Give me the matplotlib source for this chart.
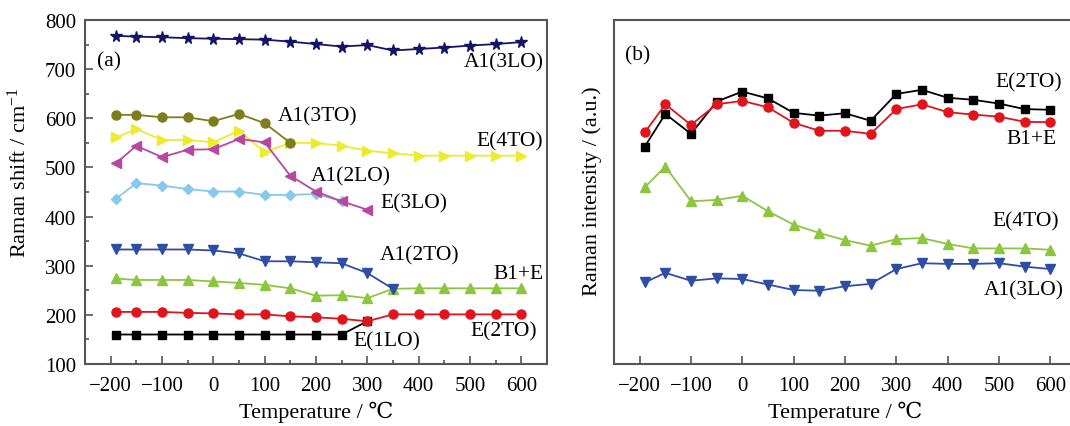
import matplotlib
matplotlib.use("Agg")
import matplotlib.pyplot as plt
from matplotlib.ticker import MultipleLocator, NullLocator

plt.rcParams['font.family'] = ['Liberation Serif', 'DejaVu Serif']
plt.rcParams['mathtext.fontset'] = 'custom'
plt.rcParams['mathtext.rm'] = 'Liberation Serif'
plt.rcParams['mathtext.it'] = 'Liberation Serif:italic'
plt.rcParams['axes.unicode_minus'] = True

# ---------------- data ----------------
T_full = [-190, -150, -100, -50, 0, 50, 100, 150, 200, 250, 300, 350, 400, 450, 500, 550, 600]

# panel (a): Raman shift (cm^-1)
a_A1_3LO = [768, 766, 765, 763, 762, 761, 760, 756, 751, 746, 749, 738, 741, 744, 748, 751, 755]
a_A1_3TO = [607, 607, 602, 602, 594, 609, 590, 550]
a_E_4TO = [561, 578, 556, 556, 551, 575, 531, 550, 550, 544, 534, 529, 524, 524, 524, 524, 524]
a_A1_2LO = [508, 544, 521, 536, 537, 558, 551, 483, 451, 431, 414]
a_E_3LO = [436, 468, 463, 456, 451, 451, 444, 444, 446, 431]
a_A1_2TO = [333, 333, 333, 333, 331, 325, 309, 309, 307, 305, 285, 253]
a_B1E = [274, 271, 271, 271, 268, 265, 261, 254, 239, 240, 234, 253, 254, 254, 254, 254, 254]
a_E_2TO = [206, 206, 206, 204, 203, 201, 201, 197, 195, 192, 187, 201, 201, 201, 201, 201, 201]
a_E_1LO = [160, 160, 160, 160, 160, 160, 160, 160, 160, 160, 187]

# panel (b): Raman intensity (a.u.)
b_E_2TO = [63.2, 72.7, 66.9, 76.3, 79.2, 77.2, 73.0, 72.2, 72.9, 70.7, 78.5, 79.7, 77.4, 76.8, 75.7, 74.1, 73.9]
b_B1E = [67.3, 75.5, 69.5, 75.5, 76.5, 74.6, 70.1, 67.8, 67.8, 66.9, 74.1, 75.5, 73.2, 72.5, 71.9, 70.4, 70.3]
b_E_4TO = [51.4, 57.4, 47.3, 47.7, 48.9, 44.4, 40.5, 38.1, 36.0, 34.4, 36.3, 36.6, 34.9, 33.6, 33.6, 33.6, 33.2]
b_A1_3LO = [23.7, 26.5, 24.2, 24.9, 24.7, 23.1, 21.5, 21.3, 22.6, 23.3, 27.6, 29.3, 29.1, 29.1, 29.3, 28.3, 27.6]

# ---------------- figure ----------------
W, H = 1070, 427
fig = plt.figure(figsize=(W / 100, H / 100), dpi=100)

def px_axes(l, t, r, b):
    return fig.add_axes([l / W, 1 - b / H, (r - l) / W, (b - t) / H])

axa = px_axes(85, 21, 547, 365)
axb = px_axes(614, 21, 1076, 365)

FS = 15
FS_T = 15.5
FS_L = 16
spine_c = '#555555'

def style(ax):
    for s in ax.spines.values():
        s.set_color(spine_c)
        s.set_linewidth(1.5)
    ax.tick_params(direction='in', which='major', length=6, width=1.2,
                   color=spine_c, labelsize=FS)
    ax.tick_params(direction='in', which='minor', length=3, width=1.2, color=spine_c)
    ax.tick_params(axis='x', which='major', pad=9)
    ax.tick_params(axis='y', which='major', pad=6.5)
    ax.set_xlim(-250, 650)
    ax.xaxis.set_major_locator(MultipleLocator(100))

ms = 6.5
lw = 1.3

def plot(ax, y, color, marker, msz=ms, z=2):
    ax.plot(T_full[:len(y)], y, color=color, marker=marker, markersize=msz,
            markeredgecolor=color, linewidth=lw, zorder=z)

# ---- panel (a)
style(axa)
axa.set_ylim(100, 800)
axa.yaxis.set_major_locator(MultipleLocator(100))
axa.yaxis.set_minor_locator(MultipleLocator(50))
axa.xaxis.set_minor_locator(MultipleLocator(50))

plot(axa, a_A1_3LO, '#141466', '*', msz=8.5)
plot(axa, a_E_4TO, '#ecec2c', '>', z=2)
plot(axa, a_A1_3TO, '#7d7d1c', 'o', z=3)
plot(axa, a_E_3LO, '#88c8ea', 'D', msz=5.5, z=2)
plot(axa, a_A1_2LO, '#b8489f', '<', z=3)
plot(axa, a_B1E, '#8cc63f', '^', z=2)
plot(axa, a_A1_2TO, '#2e4ea6', 'v', z=3)
plot(axa, a_E_1LO, '#000000', 's', msz=5.5, z=2)
plot(axa, a_E_2TO, '#e0141c', 'o', z=3)

axa.set_xlabel('Temperature / \u2103', fontsize=FS_L, labelpad=4)
axa.set_ylabel(r'Raman shift / cm$^{-1}$', fontsize=FS_L)
axa.yaxis.set_label_coords(-0.117, 0.56)

txt = dict(fontsize=FS_T, va='center')
axa.text(-226, 717, '(a)', ha='left', **txt)
axa.text(643, 714, 'A1(3LO)', ha='right', **txt)
axa.text(125, 605, 'A1(3TO)', ha='left', **txt)
axa.text(643, 554, 'E(4TO)', ha='right', **txt)
axa.text(190, 483, 'A1(2LO)', ha='left', **txt)
axa.text(325, 428, 'E(3LO)', ha='left', **txt)
axa.text(324, 322, 'A1(2TO)', ha='left', **txt)
axa.text(643, 285, 'B1+E', ha='right', **txt)
axa.text(631, 168, 'E(2TO)', ha='right', **txt)
axa.text(273, 147, 'E(1LO)', ha='left', **txt)

# ---- panel (b)
style(axb)
axb.set_ylim(0, 100)
axb.yaxis.set_major_locator(NullLocator())
axb.tick_params(axis='y', left=False, labelleft=False)

plot(axb, b_E_2TO, '#000000', 's', msz=5.5)
plot(axb, b_B1E, '#e0141c', 'o', z=3)
plot(axb, b_E_4TO, '#8cc63f', '^')
plot(axb, b_A1_3LO, '#2e4ea6', 'v')

axb.set_xlabel('Temperature / \u2103', fontsize=FS_L, labelpad=4)
axb.set_ylabel('Raman intensity / (a.u.)', fontsize=FS_L)
axb.yaxis.set_label_coords(-0.026, 0.505)

axb.text(-228, 90, '(b)', ha='left', **txt)
axb.text(622, 82, 'E(2TO)', ha='right', **txt)
axb.text(612, 65.5, 'B1+E', ha='right', **txt)
axb.text(617, 41.5, 'E(4TO)', ha='right', **txt)
axb.text(627, 21.5, 'A1(3LO)', ha='right', **txt)

fig.savefig('out.png', dpi=100)
